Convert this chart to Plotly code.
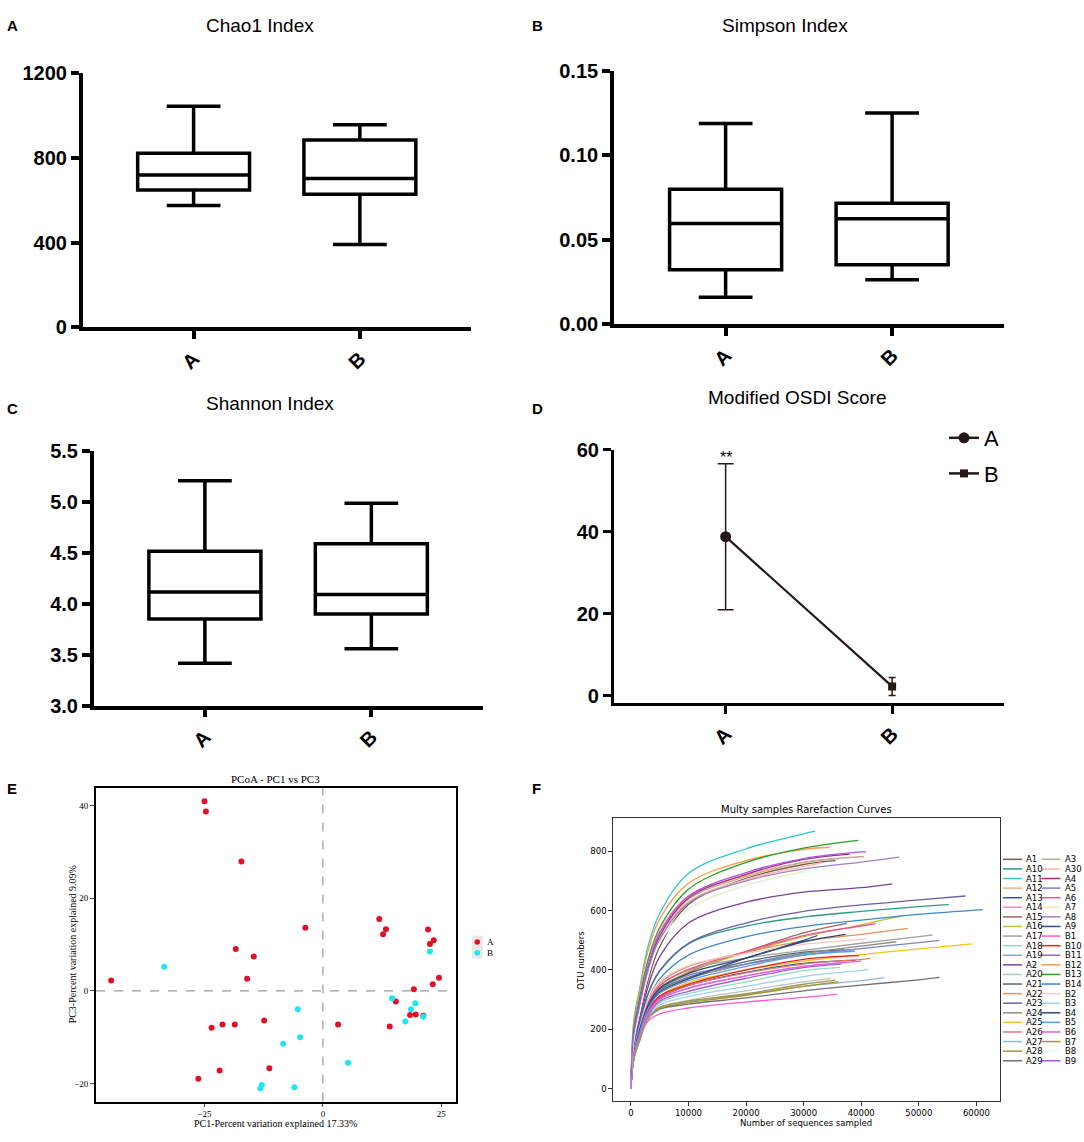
import plotly.graph_objects as go

W, H = 1084, 1142


def px(x):
    return x / W


def py(y):
    return 1 - y / H


GROUPS = ["A", "B"]

# alpha diversity boxes
chao1_q1 = [648, 629]
chao1_med = [719, 703]
chao1_q3 = [822, 884]
chao1_lo = [575, 392]
chao1_hi = [1043, 956]

simpson_q1 = [0.0321, 0.0352]
simpson_med = [0.0595, 0.0624]
simpson_q3 = [0.0798, 0.0715]
simpson_lo = [0.0159, 0.0263]
simpson_hi = [0.1187, 0.1249]

shannon_q1 = [3.852, 3.900]
shannon_med = [4.118, 4.093]
shannon_q3 = [4.517, 4.591]
shannon_lo = [3.418, 3.559]
shannon_hi = [5.211, 4.989]

# OSDI mean and sd
osdi_mean = [38.8, 2.3]
osdi_sd = [17.8, 2.2]

# PCoA points
pcoa_a_x = [-25.0, -24.7, -17.2, -3.7, -18.4, -14.6, -16.0, -44.7, -23.5, -21.2,
            -18.6, -12.4, -21.8, -26.3, -11.3, 3.2, 11.9, 13.3, 12.7, 22.2,
            23.4, 22.6, 24.5, 23.2, 19.2, 15.4, 18.4, 19.6, 21.2, 14.1]
pcoa_a_y = [40.9, 38.7, 27.9, 13.6, 9.0, 7.4, 2.6, 2.2, -8.0, -7.3,
            -7.3, -6.4, -17.2, -19.0, -16.7, -7.3, 15.5, 13.3, 12.2, 13.2,
            10.9, 10.1, 2.8, 1.4, 0.35, -2.3, -5.2, -5.1, -5.4, -7.7]
pcoa_b_x = [-33.5, -5.3, -4.8, -8.4, 5.3, -12.9, -13.2, -6.0, 22.6, 14.6,
            19.5, 18.6, 17.4, 21.2]
pcoa_b_y = [5.2, -4.0, -10.0, -11.4, -15.5, -20.3, -21.0, -20.8, 8.5, -1.6,
            -2.7, -4.0, -6.6, -5.6]

# rarefaction curves: OTU numbers at shared depths, then each curve's own tail
depth_grid = [0, 500, 1500, 3000, 5000, 10000, 20000, 30000]
samples = ["A1", "A10", "A11", "A12", "A13", "A14", "A15", "A16", "A17", "A18", "A19",
           "A2", "A20", "A21", "A22", "A23", "A24", "A25", "A26", "A27", "A28", "A29",
           "A3", "A30", "A4", "A5", "A6", "A7", "A8", "A9", "B1", "B10", "B11", "B12",
           "B13", "B14", "B2", "B3", "B4", "B5", "B6", "B7", "B8", "B9"]
colors = {
    "A1": "#7a5a4a", "A10": "#2a9d7f", "A11": "#2ec4d4", "A12": "#f9a98b", "A13": "#3b4f8a",
    "A14": "#e88cc8", "A15": "#a0645a", "A16": "#bcbd3a", "A17": "#a0a0a0", "A18": "#8fdcc0",
    "A19": "#8fa3d0", "A2": "#7b3f98", "A20": "#b8c4c0", "A21": "#556b6b", "A22": "#e0965a",
    "A23": "#6a5fa8", "A24": "#8c8c78", "A25": "#f5c21b", "A26": "#e07a70", "A27": "#8fb8e8",
    "A28": "#a89050", "A29": "#707070", "A3": "#c0a898", "A30": "#f8b8a8", "A4": "#a8306a",
    "A5": "#8080c8", "A6": "#f05090", "A7": "#fde0a8", "A8": "#a080c0", "A9": "#2a4a8a",
    "B1": "#ff5cd0", "B10": "#e82020", "B11": "#a060d8", "B12": "#ff9840", "B13": "#2ca02c",
    "B14": "#3a88c8", "B2": "#f8c8c8", "B3": "#a0d0f8", "B4": "#304870", "B5": "#5a9af0",
    "B6": "#e060e8", "B7": "#a09830", "B8": "#e0fcfc", "B9": "#b050e8",
}
otu_grid = {
    "A1": [0, 150, 240, 365, 478, 620, 708, 755],
    "A10": [0, 135, 215, 320, 395, 488, 548, 578],
    "A11": [0, 230, 335, 482, 590, 725, 808, 858],
    "A12": [0, 185, 292, 432, 532, 650, 718, 762],
    "A13": [0, 112, 180, 260, 305, 348, 392, 422],
    "A14": [0, 110, 176, 255, 300, 340, 380, 412],
    "A15": [0, 118, 195, 285, 340, 392, 462, 525],
    "A16": [0, 116, 192, 280, 335, 395, 458, 512],
    "A17": [0, 118, 196, 285, 345, 400, 440, 466],
    "A18": [0, 102, 168, 245, 290, 320, 360, 398],
    "A19": [0, 115, 190, 275, 330, 372, 420, 457],
    "A2": [0, 155, 230, 345, 445, 558, 628, 662],
    "A20": [0, 100, 165, 240, 272, 298, 330, 360],
    "A21": [0, 115, 190, 275, 332, 375, 428, 460],
    "A22": [0, 122, 202, 295, 355, 412, 460, 497],
    "A23": [0, 138, 218, 322, 398, 490, 558, 597],
    "A24": [0, 114, 190, 272, 328, 372, 420, 455],
    "A25": [0, 108, 180, 262, 312, 358, 400, 430],
    "A26": [0, 110, 180, 262, 308, 348, 390, 420],
    "A27": [0, 98, 160, 232, 268, 292, 318, 345],
    "A28": [0, 104, 170, 245, 275, 296, 320, 352],
    "A29": [0, 100, 162, 240, 268, 285, 306, 330],
    "A3": [0, 178, 280, 405, 510, 638, 714, 762],
    "A30": [0, 178, 282, 408, 512, 630, 705, 748],
    "A4": [0, 180, 284, 408, 515, 642, 722, 772],
    "A5": [0, 116, 192, 278, 335, 382, 420, 450],
    "A6": [0, 120, 200, 290, 348, 402, 462, 516],
    "A7": [0, 168, 262, 388, 492, 605, 685, 732],
    "A8": [0, 172, 275, 398, 502, 625, 700, 740],
    "A9": [0, 114, 190, 275, 325, 370, 440, 500],
    "B1": [0, 110, 172, 228, 252, 272, 292, 308],
    "B10": [0, 110, 180, 262, 312, 352, 400, 436],
    "B11": [0, 104, 172, 248, 295, 328, 372, 408],
    "B12": [0, 215, 325, 465, 572, 692, 768, 806],
    "B13": [0, 200, 305, 435, 542, 672, 762, 810],
    "B14": [0, 128, 205, 300, 370, 450, 512, 546],
    "B2": [0, 122, 205, 300, 362, 415, 456, 486],
    "B3": [0, 100, 165, 240, 282, 310, 345, 378],
    "B4": [0, 118, 198, 282, 338, 388, 440, 495],
    "B5": [0, 112, 186, 270, 322, 365, 412, 450],
    "B6": [0, 108, 178, 255, 302, 338, 380, 412],
    "B7": [0, 100, 165, 240, 270, 290, 315, 345],
    "B8": [0, 162, 255, 382, 492, 602, 682, 728],
    "B9": [0, 185, 288, 415, 524, 648, 728, 775],
}
tail_depth = {
    "A1": [35500], "A10": [40000, 50000, 55200], "A11": [32000], "A12": [36000],
    "A13": [39000], "A14": [37000], "A15": [37500], "A16": [40000, 47000],
    "A17": [40000, 50000, 52400], "A18": [36300], "A19": [38500], "A2": [40000, 45400],
    "A20": [34800], "A21": [37000], "A22": [40000, 48100], "A23": [40000, 50000, 58100],
    "A24": [40000, 46100], "A25": [40000, 50000, 59300], "A26": [40000, 41600],
    "A27": [40000, 44000], "A28": [35500], "A29": [40000, 50000, 53600], "A3": [40500],
    "A30": [33000], "A4": [38000], "A5": [40000, 50000, 53600], "A6": [40000, 42500],
    "A7": [30500], "A8": [40000, 46600], "A9": [32400], "B1": [35800], "B10": [39600],
    "B11": [36500], "B12": [34500], "B13": [39500], "B14": [40000, 50000, 61100],
    "B2": [40000, 41000], "B3": [40000, 41300], "B4": [37300], "B5": [38900],
    "B6": [40000], "B7": [36000], "B8": [34800], "B9": [40800],
}
tail_otu = {
    "A1": [768], "A10": [597, 613, 620], "A11": [867], "A12": [775],
    "A13": [432], "A14": [424], "A15": [557], "A16": [552, 582],
    "A17": [490, 512, 518], "A18": [409], "A19": [468], "A2": [677, 690],
    "A20": [372], "A21": [468], "A22": [520, 540], "A23": [619, 636, 649],
    "A24": [480, 495], "A25": [452, 471, 488], "A26": [436, 439],
    "A27": [364, 374], "A28": [366], "A29": [349, 367, 375], "A3": [782],
    "A30": [760], "A4": [790], "A5": [472, 492, 500], "A6": [548, 556],
    "A7": [735], "A8": [763, 780], "A9": [516], "B1": [318], "B10": [448],
    "B11": [420], "B12": [813], "B13": [836], "B14": [568, 587, 603],
    "B2": [503, 505], "B3": [399, 402], "B4": [520], "B5": [463],
    "B6": [430], "B7": [360], "B8": [742], "B9": [798],
}

ARIAL = "Liberation Sans"
INK = "#231815"

fig = go.Figure()

# ---- A, B, C: box plots
box_sets = [
    ("x", "y", chao1_q1, chao1_med, chao1_q3, chao1_lo, chao1_hi),
    ("x2", "y2", simpson_q1, simpson_med, simpson_q3, simpson_lo, simpson_hi),
    ("x3", "y3", shannon_q1, shannon_med, shannon_q3, shannon_lo, shannon_hi),
]
for xa, ya, q1, med, q3, lo, hi in box_sets:
    for i in range(2):
        fig.add_trace(go.Box(
            x=[i], q1=[q1[i]], median=[med[i]], q3=[q3[i]],
            lowerfence=[lo[i]], upperfence=[hi[i]],
            width=0.673, whiskerwidth=0.48, boxpoints=False,
            fillcolor="white", line=dict(color="black", width=3.5),
            xaxis=xa, yaxis=ya, showlegend=False,
        ))

# ---- D: OSDI score
fig.add_trace(go.Scatter(
    x=[0, 1], y=osdi_mean, mode="lines", line=dict(color=INK, width=2.2),
    xaxis="x4", yaxis="y4", showlegend=False,
))
symbols = ["circle", "square"]
msizes = [11, 8]
capw = [8, 3.5]
for i, g in enumerate(GROUPS):
    fig.add_trace(go.Scatter(
        x=[i], y=[osdi_mean[i]], mode="lines+markers", name=g,
        marker=dict(symbol=symbols[i], size=msizes[i], color=INK),
        line=dict(color=INK, width=2.5),
        error_y=dict(type="data", array=[osdi_sd[i]], color=INK, thickness=1.5, width=capw[i]),
        xaxis="x4", yaxis="y4", legendgroup=g,
    ))

# ---- E: PCoA
for xs, ys, col in [(pcoa_a_x, pcoa_a_y, "#e0102a"), (pcoa_b_x, pcoa_b_y, "#1ee6f0")]:
    fig.add_trace(go.Scatter(
        x=xs, y=ys, mode="markers", marker=dict(size=6, color=col),
        xaxis="x5", yaxis="y5", showlegend=False,
    ))

# ---- F: rarefaction
for s in samples:
    fig.add_trace(go.Scatter(
        x=depth_grid + tail_depth[s], y=otu_grid[s] + tail_otu[s],
        mode="lines", line=dict(color=colors[s], width=1.3, shape="spline"),
        xaxis="x6", yaxis="y6", showlegend=False,
    ))


def box_axes(xdom, ydom, anchor_x, anchor_y, xr, yr, ytv):
    tf = dict(family=ARIAL, size=20, color="black", weight="bold")
    xa = dict(domain=xdom, anchor=anchor_y, range=xr, showline=True, linewidth=3.5,
              linecolor="black", ticks="outside", ticklen=8, tickwidth=3.5,
              tickcolor="black", showgrid=False, zeroline=False, tickvals=[0, 1],
              ticktext=GROUPS, tickangle=-45, tickfont=tf)
    ya = dict(domain=ydom, anchor=anchor_x, range=yr, showline=True, linewidth=3.5,
              linecolor="black", ticks="outside", ticklen=8, tickwidth=3.5,
              tickcolor="black", showgrid=False, zeroline=False, tickvals=ytv, tickfont=tf)
    return xa, ya


xa1, ya1 = box_axes([px(82.7), px(471.1)], [py(322.7), py(63.3)], "x", "y",
                    [-0.667, 1.669], [0, 1200], [0, 400, 800, 1200])
xa2, ya2 = box_axes([px(613.9), px(1004)], [py(319.3), py(60.7)], "x2", "y2",
                    [-0.671, 1.672], [0, 0.15], [0, 0.05, 0.10, 0.15])
ya2["tickformat"] = ".2f"
xa3, ya3 = box_axes([px(93.7), px(483.2)], [py(708.3), py(449)], "x3", "y3",
                    [-0.668, 1.672], [3.0, 5.5], [3.0, 3.5, 4.0, 4.5, 5.0, 5.5])
ya3["tickformat"] = ".1f"
xa4, ya4 = box_axes([px(613.9), px(1004)], [py(706), py(447.3)], "x4", "y4",
                    [-0.671, 1.672], [-1.84, 60], [0, 20, 40, 60])
for a in (xa4, ya4):
    a["linewidth"] = 3
    a["tickwidth"] = 3

serif = "Liberation Serif"
xa5 = dict(domain=[px(96), px(456)], anchor="y5", range=[-47.9, 28.1], showline=True,
           mirror=True, linewidth=2, linecolor="black", ticks="outside", ticklen=3,
           tickwidth=1, showgrid=False, zeroline=False, tickvals=[-25, 0, 25],
           tickfont=dict(family=serif, size=9, color="black"))
ya5 = dict(domain=[py(1112), py(792)], anchor="x5", range=[-23.9, 43.8], showline=True,
           mirror=True, linewidth=2, linecolor="black", ticks="outside", ticklen=4,
           tickwidth=1, showgrid=False, zeroline=False, tickvals=[-20, 0, 20, 40],
           tickfont=dict(family=serif, size=9, color="black"))

dv = "DejaVu Sans"
xa6 = dict(domain=[px(612.8), px(1000.3)], anchor="y6", range=[-3143, 64150], showline=True,
           mirror=True, linewidth=1, linecolor="#333333", ticks="outside", ticklen=3.5,
           tickwidth=1, tickcolor="#333333", showgrid=False, zeroline=False,
           tickvals=[0, 10000, 20000, 30000, 40000, 50000, 60000], tickformat="d",
           tickfont=dict(family=dv, size=8.5, color="black"))
ya6 = dict(domain=[py(1111.7), py(822.7)], anchor="x6", range=[-41.9, 912], showline=True,
           mirror=True, linewidth=1, linecolor="#333333", ticks="outside", ticklen=3.5,
           tickwidth=1, tickcolor="#333333", showgrid=False, zeroline=False,
           tickvals=[0, 200, 400, 600, 800], tickfont=dict(family=dv, size=8.5, color="black"))

ann = []


def text(x, y, t, size, family=ARIAL, xanchor="center", bold=False, angle=0, color="black"):
    ann.append(dict(x=px(x), y=py(y), xref="paper", yref="paper", text=t, showarrow=False,
                    xanchor=xanchor, yanchor="middle", textangle=angle, borderpad=0,
                    font=dict(family=family, size=size, color=color,
                              weight="bold" if bold else "normal")))


for letter, lx, ly in [("A", 12.6, 15), ("B", 537, 15), ("C", 12.6, 405),
                       ("D", 537, 405), ("E", 11.7, 793), ("F", 536, 793)]:
    text(lx, ly, letter, 15, bold=True)

text(260, 15, "Chao1 Index", 19)
text(784.6, 15, "Simpson Index", 19)
text(270.4, 400, "Shannon Index", 19)
text(796.7, 394, "Modified OSDI Score", 19)
text(725.6, 455, "**", 16)

text(275.7, 783, "PCoA - PC1 vs PC3", 11, family=serif)
text(275.8, 1134, "PC1-Percent variation explained 17.33%", 10, family=serif)
text(72, 951.7, "PC3-Percent variation explained 9.09%", 10, family=serif, angle=-90)

text(806.6, 814.3, "Multy samples Rarefaction Curves", 10, family=dv)
text(806.4, 1134, "Number of sequences sampled", 8.5, family=dv)
text(581, 968.3, "OTU numbers", 8.5, family=dv, angle=-90)

shapes = []
# dashed origin lines in E
shapes.append(dict(type="line", xref="x5", yref="y5 domain", x0=0, x1=0, y0=0, y1=1,
                   line=dict(color="#9a9a9a", width=1.2, dash="dash")))
shapes.append(dict(type="line", xref="x5 domain", yref="y5", x0=0, x1=1, y0=0, y1=0,
                   line=dict(color="#9a9a9a", width=1.2, dash="dash")))

# E legend
shapes.append(dict(type="rect", xref="paper", yref="paper", x0=px(471.7), x1=px(482.7),
                   y0=py(966), y1=py(942.7), fillcolor="#e8e8e8", line=dict(width=0)))
for (g, col, ly) in [("A", "#e0102a", 949.3), ("B", "#1ee6f0", 960.3)]:
    shapes.append(dict(type="circle", xref="paper", yref="paper",
                       x0=px(477.3 - 2.8), x1=px(477.3 + 2.8), y0=py(ly + 2.8), y1=py(ly - 2.8),
                       fillcolor=col, line=dict(width=0)))
    text(486, ly, g, 9, family=serif, xanchor="left")

# F legend (two columns)
for i, s in enumerate(samples):
    col, row = divmod(i, 22)
    ly = 865 + row * 9.78
    lx0 = 1003 if col == 0 else 1041.5
    shapes.append(dict(type="line", xref="paper", yref="paper", x0=px(lx0), x1=px(lx0 + 19),
                       y0=py(ly), y1=py(ly), line=dict(color=colors[s], width=1.5)))
    text(lx0 + 22, ly, s, 8.5, family=dv, xanchor="left")

fig.update_layout(
    width=W, height=H, margin=dict(l=0, r=0, t=0, b=0),
    paper_bgcolor="white", plot_bgcolor="white",
    xaxis=xa1, yaxis=ya1, xaxis2=xa2, yaxis2=ya2, xaxis3=xa3, yaxis3=ya3,
    xaxis4=xa4, yaxis4=ya4, xaxis5=xa5, yaxis5=ya5, xaxis6=xa6, yaxis6=ya6,
    annotations=ann, shapes=shapes,
    legend=dict(x=px(944), y=py(414), xanchor="left", yanchor="top",
                font=dict(family=ARIAL, size=22, color="black"),
                bgcolor="rgba(0,0,0,0)", tracegroupgap=4),
    font=dict(family=ARIAL),
)

fig.write_html("out.html", config={"displayModeBar": False},
               post_script="document.body.style.margin='0';")
